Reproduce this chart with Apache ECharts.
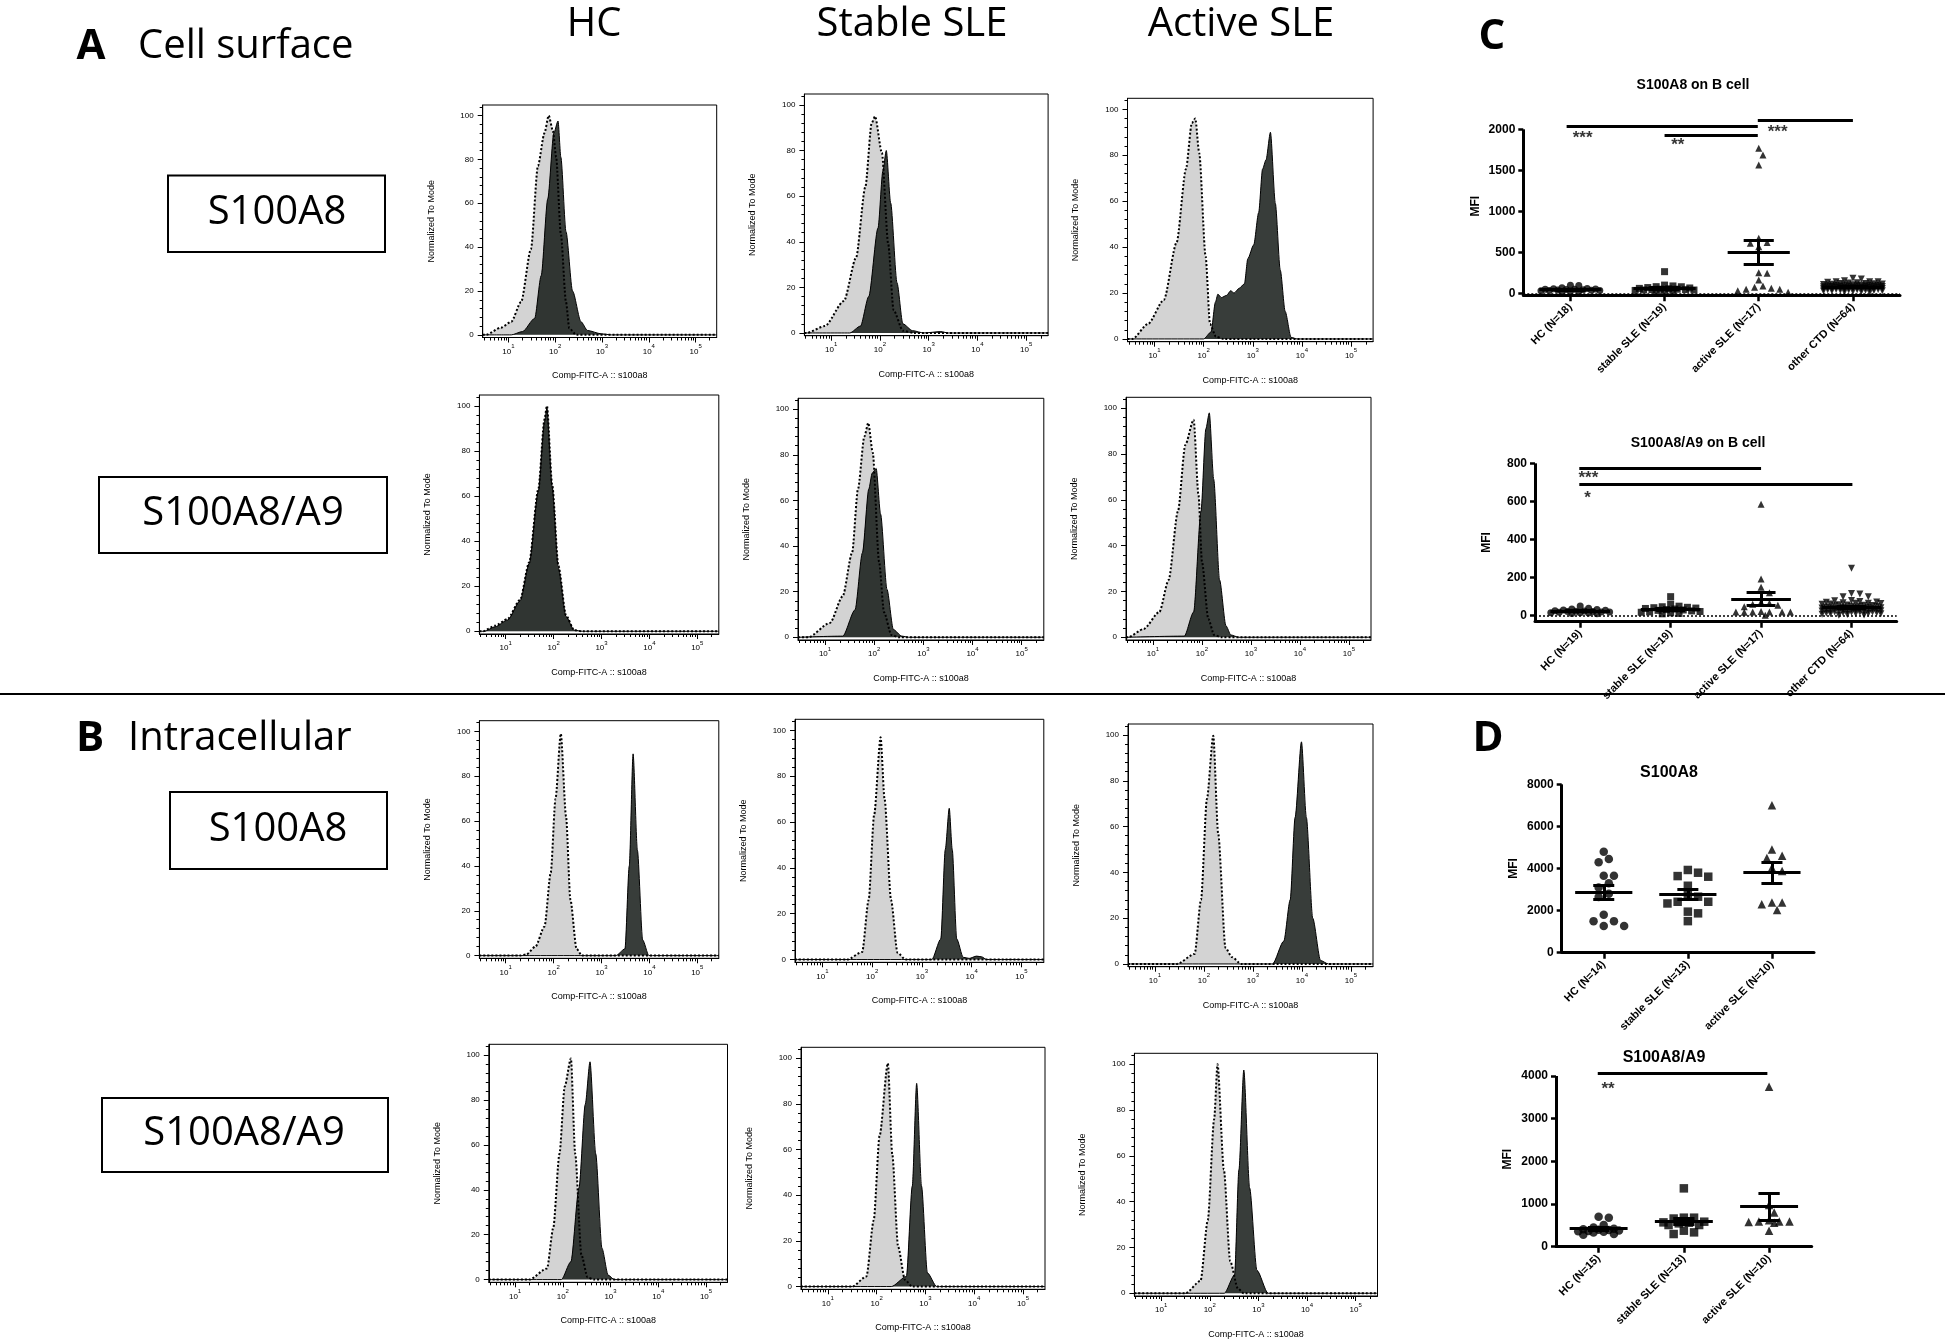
<!DOCTYPE html>
<html><head><meta charset="utf-8">
<script src="https://cdn.jsdelivr.net/npm/echarts@6/dist/echarts.min.js"></script>
<style>html,body{margin:0;padding:0;background:#fff}#c{width:1945px;height:1344px}</style>
</head><body><div id="c"></div>
<script>
// ---------------- DATA ----------------
// Histogram curves: [log10(intensity), % of mode]; iso = isotype (grey dotted), smp = stained sample (dark)
const R1_HC_ISO  = [[0.45,0],[0.52,0],[0.84,3.3],[1.06,6],[1.27,15],[1.48,39],[1.63,77],[1.77,92],[1.86,100],[1.95,93],[2.02,81],[2.12,46],[2.23,15],[2.3,3],[2.45,0],[5.45,0]];
const R1_HC_SMP  = [[0.45,0],[1.06,0],[1.3,1.5],[1.56,7.5],[1.7,27],[1.84,62],[1.97,92],[2.06,97.5],[2.12,81],[2.23,47],[2.37,20],[2.55,6],[2.69,2],[2.98,0.5],[3.2,0],[5.45,0]];
const R1_ST_ISO  = [[0.45,0],[0.49,0],[0.87,3],[1.26,14],[1.51,33],[1.7,64],[1.83,92],[1.9,95],[2.04,79],[2.17,39],[2.28,10],[2.47,1],[2.7,0],[5.45,0]];
const R1_ST_SMP  = [[0.45,0],[1.38,0],[1.6,3],[1.77,16],[1.96,46],[2.06,71],[2.13,80],[2.22,57],[2.35,22],[2.47,4],[2.67,1],[2.9,0],[3.25,0.6],[3.4,0],[5.45,0]];
const R1_AC_ISO  = [[0.45,0],[0.55,0],[0.87,6.6],[1.19,17],[1.45,42],[1.64,74],[1.76,94],[1.83,96],[1.91,81],[2.04,36],[2.13,6.5],[2.25,1],[2.4,0],[5.45,0]];
const R1_AC_SMP  = [[0.45,0],[2.0,0],[2.15,3],[2.24,16],[2.29,19.5],[2.36,18],[2.47,19],[2.55,21],[2.62,20],[2.72,22],[2.83,24],[2.9,35],[3.02,41],[3.12,55],[3.2,74],[3.27,78],[3.36,90],[3.46,59],[3.56,30],[3.66,12],[3.78,0.7],[3.9,0],[5.45,0]];
const R2_HC_ISO  = [[0.45,0],[0.52,0],[0.78,2.5],[1.04,5.5],[1.3,14],[1.49,30.6],[1.68,63],[1.81,94],[1.86,100],[1.97,65],[2.1,29],[2.26,7],[2.43,0.5],[2.6,0],[5.45,0]];
const R2_HC_SMP  = [[0.45,0],[0.55,0],[0.78,2],[1.04,5],[1.3,13.5],[1.49,30],[1.68,62],[1.81,93],[1.86,99],[1.97,64],[2.1,28],[2.26,6.5],[2.43,0.5],[2.6,0],[5.45,0]];
const R2_ST_ISO  = [[0.45,0],[0.66,0],[1.1,6.3],[1.36,18],[1.55,37],[1.67,65],[1.8,88],[1.88,94],[1.97,81],[2.1,33],[2.2,11],[2.35,1],[2.5,0],[5.45,0]];
const R2_ST_SMP  = [[0.45,0],[1.36,0.5],[1.61,12],[1.76,37],[1.89,65],[1.96,72],[2.04,74],[2.13,54],[2.26,21],[2.39,3.4],[2.56,0.5],[2.7,0],[5.45,0]];
const R2_AC_ISO  = [[0.45,0],[0.49,0],[0.81,3.6],[1.13,11],[1.32,25],[1.51,55],[1.66,84],[1.83,95],[1.93,62],[2.0,33],[2.13,8],[2.25,1],[2.4,0],[5.45,0]];
const R2_AC_SMP  = [[0.45,0],[1.64,0.5],[1.83,11],[1.98,55],[2.08,91],[2.15,98],[2.24,69],[2.36,25],[2.49,5],[2.59,1],[2.75,0],[5.45,0]];
const R3_HC_ISO  = [[0.45,0],[1.3,0],[1.43,0.5],[1.62,4],[1.81,13],[1.94,37],[2.04,70],[2.15,99],[2.26,62],[2.35,25],[2.48,3],[2.59,0],[5.45,0]];
const R3_HC_SMP  = [[0.45,0],[3.3,0],[3.49,3],[3.58,40],[3.66,90],[3.75,47],[3.86,7],[3.99,0],[5.45,0]];
const R3_ST_ISO  = [[0.45,0],[1.5,0],[1.8,3.3],[1.93,26],[2.04,63],[2.17,97],[2.25,70],[2.38,26],[2.51,3],[2.67,0],[5.45,0]];
const R3_ST_SMP  = [[0.45,0],[3.2,0],[3.38,9],[3.47,48],[3.55,66],[3.61,48],[3.7,9],[3.83,1],[3.95,0.5],[4.1,1.5],[4.2,1.2],[4.3,0],[5.45,0]];
const R3_AC_ISO  = [[0.45,0],[1.45,0],[1.81,4.4],[1.94,28],[2.06,72],[2.19,99.7],[2.29,57],[2.44,7],[2.57,3],[2.76,0],[5.45,0]];
const R3_AC_SMP  = [[0.45,0],[3.4,0],[3.63,10],[3.76,28],[3.86,64],[3.99,97],[4.09,64],[4.22,20],[4.38,1.5],[4.54,0],[5.45,0]];
const R4_HC_ISO  = [[0.45,0],[1.3,0],[1.67,5],[1.8,23],[1.93,56],[2.04,86],[2.17,98.5],[2.26,56],[2.39,11],[2.52,1],[2.65,0],[5.45,0]];
const R4_HC_SMP  = [[0.45,0],[1.97,0],[2.17,8],[2.34,41],[2.47,78],[2.57,97],[2.69,56],[2.82,14],[2.95,2],[3.08,0],[5.45,0]];
const R4_ST_ISO  = [[0.45,0],[1.5,0],[1.79,4.4],[1.94,29],[2.06,66],[2.23,97.8],[2.32,58],[2.44,17.5],[2.58,3],[2.73,0],[5.45,0]];
const R4_ST_SMP  = [[0.45,0],[2.3,0],[2.61,4.4],[2.73,44],[2.82,89],[2.92,44],[3.04,6],[3.23,0],[5.45,0]];
const R4_AC_ISO  = [[0.45,0],[1.5,0],[1.81,5.4],[1.96,32],[2.09,76],[2.16,100],[2.29,54],[2.42,14],[2.58,2],[2.7,0],[5.45,0]];
const R4_AC_SMP  = [[0.45,0],[2.3,0],[2.51,8],[2.6,54],[2.7,97.5],[2.82,46],[2.97,10],[3.2,0],[5.45,0]];

const HIST_X_TICKS = [1, 2, 3, 4, 5];          // 10^1 .. 10^5
const HIST_Y_TICKS = [0, 20, 40, 60, 80, 100];

// Panel C (MFI on B cells)
const C_TOP_CATS = ['HC (N=18)', 'stable SLE (N=19)', 'active SLE (N=17)', 'other CTD (N=64)'];
const C_TOP_HC = [98, 95, 69, 60, 55, 52, 50, 48, 45, 42, 40, 38, 35, 33, 30, 28, 25, 20];
const C_TOP_ST = [264, 100, 90, 81, 80, 70, 65, 60, 55, 50, 50, 45, 45, 40, 40, 35, 30, 25, 20];
const C_TOP_AC = [1768, 1687, 1565, 671, 618, 610, 569, 252, 244, 163, 89, 73, 61, 49, 49, 30, 12];
const C_TOP_OT = [183,175,154,142,142,142,135,130,125,120,118,115,112,110,108,105,102,100,98,96,95,93,92,90,88,86,85,84,82,80,78,76,75,74,72,70,68,66,65,64,62,60,58,56,55,54,52,50,48,46,45,44,42,40,38,36,35,32,30,28,25,22,18,12];
const C_TOP_TICKS = [0, 500, 1000, 1500, 2000];
const C_TOP_SIG = [[0.46, 2.49, 2041], [1.50, 2.49, 1931], [2.49, 3.50, 2114]];
const C_TOP_SIG_TXT = [[0.63, 1943, '***'], [1.64, 1850, '**'], [2.70, 2012, '***']];

const C_BOT_CATS = ['HC (N=19)', 'stable SLE (N=19)', 'active SLE (N=17)', 'other CTD (N=64)'];
const C_BOT_HC = [51, 39, 35, 32, 30, 28, 26, 25, 24, 22, 22, 20, 20, 18, 16, 15, 14, 12, 10];
const C_BOT_ST = [100, 61, 50, 47, 44, 42, 40, 38, 35, 32, 30, 28, 25, 22, 20, 18, 15, 12, 10];
const C_BOT_AC = [585, 193, 149, 120, 70, 65, 60, 55, 47, 22, 20, 20, 20, 20, 20, 18, 2];
const C_BOT_OT = [249,117,114,100,100,80,78,75,72,70,68,66,65,64,62,60,58,56,55,54,52,50,50,48,46,45,44,42,42,40,40,38,38,36,36,35,34,32,32,30,30,28,28,26,26,25,24,22,22,20,20,18,18,16,15,14,12,12,10,10,8,6,4,2];
const C_BOT_TICKS = [0, 200, 400, 600, 800];
const C_BOT_SIG = [[0.49, 2.50, 774], [0.49, 3.51, 692]];
const C_BOT_SIG_TXT = [[0.59, 742, '***'], [0.58, 639, '*']];

// Panel D (intracellular MFI)
const D_TOP_CATS = ['HC (N=14)', 'stable SLE (N=13)', 'active SLE (N=10)'];
const D_TOP_HC = [4800, 4450, 4300, 3650, 3650, 3300, 3100, 2800, 2650, 1800, 1500, 1500, 1270, 1270];
const D_TOP_ST = [3930, 3800, 3640, 3610, 3180, 2740, 2660, 2420, 2420, 2340, 1950, 1870, 1500];
const D_TOP_AC = [7000, 4900, 4600, 4500, 4040, 3880, 2390, 2380, 2300, 2030];
const D_TOP_TICKS = [0, 2000, 4000, 6000, 8000];

const D_BOT_CATS = ['HC (N=15)', 'stable SLE (N=13)', 'active SLE (N=10)'];
const D_BOT_HC = [700, 680, 510, 450, 420, 410, 400, 390, 380, 370, 360, 350, 330, 300, 280];
const D_BOT_ST = [1367, 680, 680, 660, 586, 570, 562, 547, 508, 508, 375, 336, 297];
const D_BOT_AC = [3750, 980, 800, 620, 590, 590, 590, 580, 560, 375];
const D_BOT_TICKS = [0, 1000, 2000, 3000, 4000];
const D_BOT_SIG = [[0.49, 2.48, 4062]];
const D_BOT_SIG_TXT = [[0.61, 3789, '**']];

// ---------------- LAYOUT / STYLE ----------------
const F = "'Liberation Sans', Arial, sans-serif";
const FL = "'Open Sans', 'Noto Sans', sans-serif";
const X_MIN = 0.45, X_MAX = 5.45, Y_MIN = -1.2, Y_MAX = 104.8;

const HIST = [
  {box: [482.7, 105, 716.7, 337.5], iso: R1_HC_ISO, smp: R1_HC_SMP},
  {box: [804.4, 94, 1048.1, 335.7], iso: R1_ST_ISO, smp: R1_ST_SMP},
  {box: [1127.5, 98.3, 1373.1, 341.7], iso: R1_AC_ISO, smp: R1_AC_SMP},
  {box: [479.4, 395, 718.8, 634], iso: R2_HC_ISO, smp: R2_HC_SMP},
  {box: [798, 398.3, 1043.8, 640], iso: R2_ST_ISO, smp: R2_ST_SMP},
  {box: [1126, 397.3, 1371, 640], iso: R2_AC_ISO, smp: R2_AC_SMP},
  {box: [479.4, 720.7, 718.8, 958.3], iso: R3_HC_ISO, smp: R3_HC_SMP},
  {box: [795, 719.3, 1043.8, 962.3], iso: R3_ST_ISO, smp: R3_ST_SMP},
  {box: [1128, 724, 1373, 966.7], iso: R3_AC_ISO, smp: R3_AC_SMP},
  {box: [488.8, 1044.3, 727.5, 1282.3], iso: R4_HC_ISO, smp: R4_HC_SMP},
  {box: [801, 1047.3, 1045, 1289.3], iso: R4_ST_ISO, smp: R4_ST_SMP},
  {box: [1134.4, 1053.3, 1377.5, 1296], iso: R4_AC_ISO, smp: R4_AC_SMP}
];

const X_MINOR = [];
for (let d = 0; d <= 5; d++) for (let m = 2; m <= 9; m++) {
  const v = d + Math.log10(m);
  if (v > X_MIN && v < X_MAX) X_MINOR.push(v);
}
const Y_MINOR = [];
for (let v = 4; v <= 104; v += 4) if (v % 20) Y_MINOR.push(v);

const SYMS = ['circle', 'rect', 'triangle', 'path://M0,0L10,0L5,9Z'];

const SCAT = [
  {cats: C_TOP_CATS, groups: [C_TOP_HC, C_TOP_ST, C_TOP_AC, C_TOP_OT], left: 1523.3, right: 1900, y0: 293.3, k: 0.082,
   yMin: -25, yMax: 2150, ticks: C_TOP_TICKS, sig: C_TOP_SIG, sigTxt: C_TOP_SIG_TXT, zero: true, size: 7, half: 30, meanHalf: 0.33, capHalf: 0.16},
  {cats: C_BOT_CATS, groups: [C_BOT_HC, C_BOT_ST, C_BOT_AC, C_BOT_OT], left: 1535, right: 1896.7, y0: 615.7, k: 0.1905,
   yMin: -31.5, yMax: 800, ticks: C_BOT_TICKS, sig: C_BOT_SIG, sigTxt: C_BOT_SIG_TXT, zero: true, size: 7, half: 30, meanHalf: 0.33, capHalf: 0.16},
  {cats: D_TOP_CATS, groups: [D_TOP_HC, D_TOP_ST, D_TOP_AC], left: 1561.7, right: 1814, y0: 952.7, k: 0.02105,
   yMin: 0, yMax: 8000, ticks: D_TOP_TICKS, sig: [], sigTxt: [], zero: false, size: 8.5, half: 22, meanHalf: 0.34, capHalf: 0.125},
  {cats: D_BOT_CATS, groups: [D_BOT_HC, D_BOT_ST, D_BOT_AC], left: 1556, right: 1811.7, y0: 1246.7, k: 0.042675,
   yMin: 0, yMax: 4100, ticks: D_BOT_TICKS, sig: D_BOT_SIG, sigTxt: D_BOT_SIG_TXT, zero: false, size: 8.5, half: 22, meanHalf: 0.34, capHalf: 0.125}
];

// deterministic beeswarm layout (GraphPad-like horizontal spreading)
function swarm(values, center, pxPerX, pxPerY, size, maxHalf) {
  const placed = [], out = [];
  const order = values.map((v, i) => i).sort((a, b) => values[b] - values[a]);
  const step = size * 0.6;
  for (const i of order) {
    const yp = values[i] * pxPerY;
    let best = 0, bestD = -1;
    for (let j = 0; ; j++) {
      const off = j === 0 ? 0 : (j % 2 ? 1 : -1) * Math.ceil(j / 2) * step;
      if (Math.abs(off) > maxHalf) break;
      let md = Infinity;
      for (const p of placed) { const d = Math.hypot(p[0] - off, p[1] - yp); if (d < md) md = d; }
      if (md >= size) { best = off; bestD = md; break; }
      if (md > bestD) { bestD = md; best = off; }
    }
    placed.push([best, yp]);
    out.push([center + best / pxPerX, values[i]]);
  }
  return out;
}

const option = {animation: false, backgroundColor: '#fff', grid: [], xAxis: [], yAxis: [], series: [], graphic: []};
const blk = {color: '#000', width: 1};

HIST.forEach((p, i) => {
  const [L, T, R, B] = p.box;
  option.grid.push({left: L, top: T, width: R - L, height: B - T, show: true, borderColor: '#000', borderWidth: 1, backgroundColor: 'rgba(0,0,0,0)'});
  option.xAxis.push({gridIndex: i, type: 'value', min: X_MIN, max: X_MAX, position: 'bottom',
    axisLine: {show: true, onZero: false, lineStyle: blk},
    axisTick: {show: true, customValues: HIST_X_TICKS, length: 5, lineStyle: blk},
    axisLabel: {show: true, customValues: HIST_X_TICKS, margin: 6,
      formatter: v => '{b|10}{s|' + v + '}',
      rich: {b: {fontSize: 8, fontFamily: F, color: '#000', verticalAlign: 'bottom', lineHeight: 12},
             s: {fontSize: 6, fontFamily: F, color: '#000', verticalAlign: 'top', lineHeight: 12}}},
    splitLine: {show: false},
    name: 'Comp-FITC-A :: s100a8', nameLocation: 'middle', nameGap: 34,
    nameTextStyle: {fontSize: 9, fontFamily: F, color: '#000'}});
  option.xAxis.push({gridIndex: i, type: 'value', min: X_MIN, max: X_MAX, position: 'bottom',
    axisLine: {show: false, onZero: false}, axisTick: {show: true, customValues: X_MINOR, length: 3, lineStyle: blk},
    axisLabel: {show: false}, splitLine: {show: false}});
  option.yAxis.push({gridIndex: i, type: 'value', min: Y_MIN, max: Y_MAX, position: 'left',
    axisLine: {show: true, onZero: false, lineStyle: blk},
    axisTick: {show: true, customValues: HIST_Y_TICKS, length: 5, lineStyle: blk},
    axisLabel: {show: true, customValues: HIST_Y_TICKS, margin: 9, fontSize: 8, fontFamily: F, color: '#000', formatter: v => String(v)},
    splitLine: {show: false},
    name: 'Normalized To Mode', nameLocation: 'middle', nameGap: 47, nameRotate: 90,
    nameTextStyle: {fontSize: 9, fontFamily: F, color: '#000'}});
  option.yAxis.push({gridIndex: i, type: 'value', min: Y_MIN, max: Y_MAX, position: 'left',
    axisLine: {show: false, onZero: false}, axisTick: {show: true, customValues: Y_MINOR, length: 3, lineStyle: blk},
    axisLabel: {show: false}, splitLine: {show: false}});
  const xi = 2 * i, yi = 2 * i;
  option.series.push({type: 'line', xAxisIndex: xi, yAxisIndex: yi, data: p.iso, smooth: 0.25, smoothMonotone: 'x',
    showSymbol: false, symbol: 'none', lineStyle: {width: 0}, areaStyle: {color: '#d3d3d3', opacity: 1}, z: 2, silent: true});
  option.series.push({type: 'line', xAxisIndex: xi, yAxisIndex: yi, data: p.smp, smooth: 0.25, smoothMonotone: 'x',
    showSymbol: false, symbol: 'none', lineStyle: {width: 1, color: '#000'}, areaStyle: {color: 'rgba(12,18,15,0.82)', opacity: 1}, z: 3, silent: true});
  option.series.push({type: 'line', xAxisIndex: xi, yAxisIndex: yi, data: p.iso, smooth: 0.25, smoothMonotone: 'x',
    showSymbol: false, symbol: 'none', lineStyle: {width: 2, color: '#000', type: [2, 2]}, z: 4, silent: true});
});

SCAT.forEach((s, j) => {
  const gi = HIST.length + j;
  const ax = 2 * HIST.length + j;
  const n = s.cats.length;
  const width = s.right - s.left;
  const top = s.y0 - s.yMax * s.k;
  const height = (s.yMax - s.yMin) * s.k;
  const centers = s.cats.map((c, i) => i + 0.5);
  option.grid.push({left: s.left, top: top, width: width, height: height, show: false});
  option.xAxis.push({gridIndex: gi, type: 'value', min: 0, max: n, position: 'bottom',
    axisLine: {show: true, onZero: false, lineStyle: {color: '#000', width: 3}},
    axisTick: {show: true, customValues: centers, length: 6, lineStyle: {color: '#000', width: 2.5}},
    axisLabel: {show: true, customValues: centers, rotate: 45, margin: 10, fontSize: 11, fontWeight: 'bold', fontFamily: F, color: '#000',
      formatter: v => s.cats[Math.floor(v)]},
    splitLine: {show: false}});
  option.yAxis.push({gridIndex: gi, type: 'value', min: s.yMin, max: s.yMax, position: 'left',
    axisLine: {show: false, onZero: false},
    axisTick: {show: true, customValues: s.ticks, length: 5, lineStyle: {color: '#000', width: 2.5}},
    axisLabel: {show: true, customValues: s.ticks, margin: 8, fontSize: 12, fontWeight: 'bold', fontFamily: F, color: '#000',
      formatter: v => String(v)},
    splitLine: {show: false},
    name: 'MFI', nameLocation: 'middle', nameGap: 42, nameRotate: 90,
    nameTextStyle: {fontSize: 12, fontWeight: 'bold', fontFamily: F, color: '#000'}});

  const pxPerX = width / n;
  const segs = [];
  // y spine
  segs.push({coords: [[0, s.yMin], [0, s.ticks[s.ticks.length - 1]]]});
  s.groups.forEach((vals, g) => {
    const c = g + 0.5;
    option.series.push({type: 'scatter', xAxisIndex: ax, yAxisIndex: ax, symbol: SYMS[g], symbolSize: s.size,
      itemStyle: {color: '#000'}, data: swarm(vals, c, pxPerX, s.k, s.size, s.half), z: 3, silent: true});
    const mean = vals.reduce((a, b) => a + b, 0) / vals.length;
    const sd = Math.sqrt(vals.reduce((a, b) => a + (b - mean) * (b - mean), 0) / (vals.length - 1));
    const sem = sd / Math.sqrt(vals.length);
    segs.push({coords: [[c - s.meanHalf, mean], [c + s.meanHalf, mean]]});
    segs.push({coords: [[c, mean - sem], [c, mean + sem]]});
    segs.push({coords: [[c - s.capHalf, mean + sem], [c + s.capHalf, mean + sem]]});
    segs.push({coords: [[c - s.capHalf, mean - sem], [c + s.capHalf, mean - sem]]});
  });
  s.sig.forEach(b => segs.push({coords: [[b[0], b[2]], [b[1], b[2]]]}));
  option.series.push({type: 'lines', coordinateSystem: 'cartesian2d', xAxisIndex: ax, yAxisIndex: ax, clip: false,
    lineStyle: {color: '#000', width: 3, opacity: 1}, data: segs, z: 5, silent: true});
  if (s.zero) {
    option.series.push({type: 'lines', coordinateSystem: 'cartesian2d', xAxisIndex: ax, yAxisIndex: ax, clip: false,
      lineStyle: {color: '#000', width: 1.5, opacity: 1, type: [2, 2]}, data: [{coords: [[0, 0], [n, 0]]}], z: 2, silent: true});
  }
  if (s.sigTxt.length) {
    option.series.push({type: 'scatter', xAxisIndex: ax, yAxisIndex: ax, symbolSize: 0, clip: false, silent: true, z: 6,
      data: s.sigTxt.map(t => ({value: [t[0], t[1]], name: t[2]})),
      label: {show: true, position: 'inside', formatter: p => p.name, fontSize: 17, fontWeight: 'bold', fontFamily: F, color: '#000', offset: [0, 4]}});
  }
});

// ---- Figure text & frames ----
function txt(t, x, y, size, weight, fam, align) {
  return {type: 'text', x: x, y: y, silent: true, z: 10,
    style: {text: t, fill: '#000', fontSize: size, fontWeight: weight || 'normal', fontFamily: fam || FL,
      align: align || 'center', verticalAlign: 'middle'}};
}
function box(x, y, w, h) {
  return {type: 'rect', shape: {x: x, y: y, width: w, height: h}, silent: true, z: 10,
    style: {fill: 'none', stroke: '#000', lineWidth: 2}};
}
option.graphic = [
  txt('A', 91, 47, 42, 'bold'),
  txt('Cell surface', 138, 47, 40, 'normal', FL, 'left'),
  txt('HC', 594, 25, 40),
  txt('Stable SLE', 912, 25, 40),
  txt('Active SLE', 1241, 25, 40),
  box(168, 175.5, 217, 76.5), txt('S100A8', 277, 213, 40),
  box(99, 477, 288, 76), txt('S100A8/A9', 243, 514, 40),
  {type: 'line', shape: {x1: 0, y1: 694, x2: 1945, y2: 694}, silent: true, style: {stroke: '#000', lineWidth: 2}},
  txt('B', 90, 739, 42, 'bold'),
  txt('Intracellular', 128, 739, 40, 'normal', FL, 'left'),
  box(170, 792, 217, 77), txt('S100A8', 278, 830, 40),
  box(102, 1098, 286, 74), txt('S100A8/A9', 244, 1134, 40),
  txt('C', 1492, 37, 42, 'bold'),
  txt('D', 1488, 739, 42, 'bold'),
  txt('S100A8 on B cell', 1693, 85, 14, 'bold', F),
  txt('S100A8/A9 on B cell', 1698, 443, 14, 'bold', F),
  txt('S100A8', 1669, 773, 16, 'bold', F),
  txt('S100A8/A9', 1664, 1058, 16, 'bold', F)
];

const chart = echarts.init(document.getElementById('c'), null, {renderer: 'canvas', width: 1945, height: 1344});
chart.setOption(option);
</script>
</body></html>
